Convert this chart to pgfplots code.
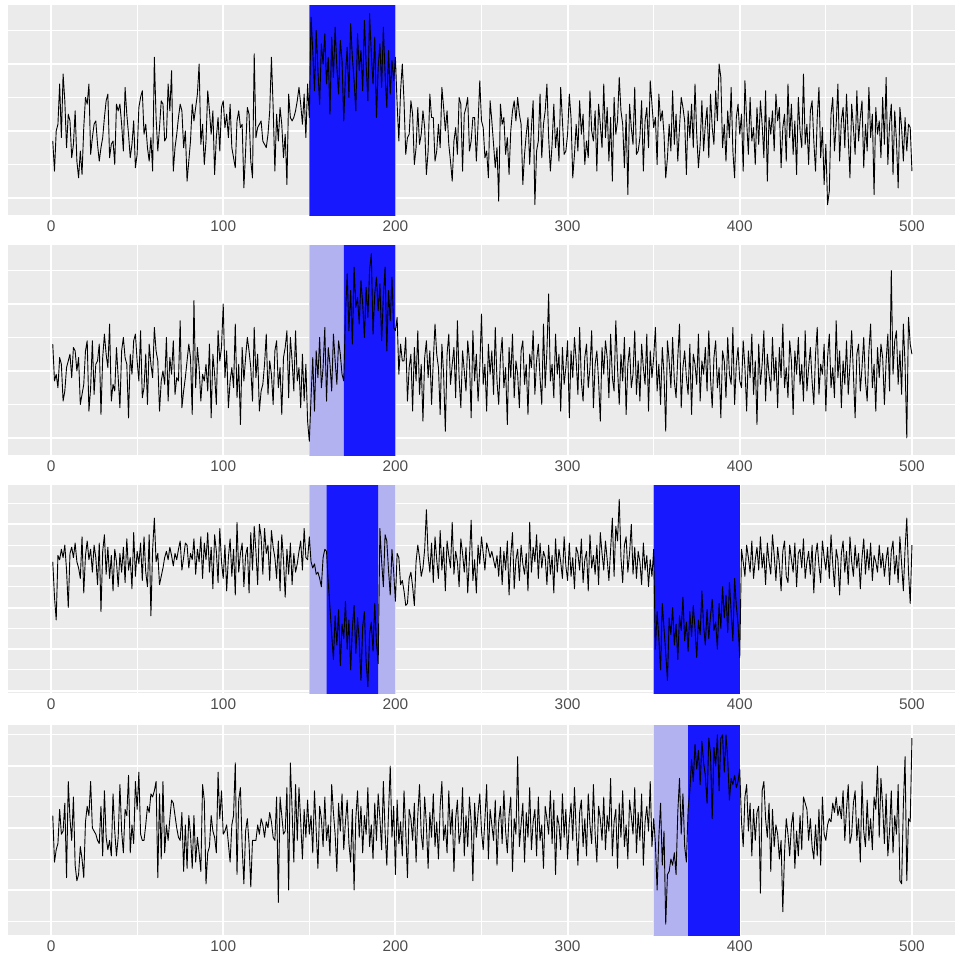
\documentclass[border=0pt]{standalone}
\usepackage{fontspec}
\setmainfont{Liberation Sans}
\usepackage{pgfplots}
\usepackage{pgfplotstable}
\pgfplotsset{compat=1.18}
\definecolor{panelbg}{RGB}{235,235,235}
\definecolor{shadedark}{RGB}{24,24,255}
\definecolor{shadelight}{RGB}{178,178,240}
\definecolor{ticktext}{RGB}{77,77,77}

% one series per panel, x = 1..500 (row index + 1)
\pgfplotstableread{
y
-3
-12
0
2
14
-2
17
9
-5
5
3
-8
-4
6
-9
-14
-6
-13
1
10
8
14
-7
-2
2
3
-4
-9
-5
-2
4
9
11
-8
-4
-3
-10
8
6
8
2
-6
13
5
-1
-8
-4
3
-11
-7
7
10
12
-1
2
-5
-9
-2
-12
22
4
-6
1
9
8
-3
-2
14
6
18
-12
-5
-1
4
8
6
-5
0
-15
-9
-3
8
3
7
11
20
-4
2
-10
-3
12
6
-1
6
-13
-2
4
-6
7
9
1
5
-2
8
-5
-8
-11
3
6
1
2
-17
-6
7
5
-9
-14
23
-2
1
2
3
-3
-4
-5
-1
6
22
7
-12
5
-3
7
2
-8
-1
-16
11
4
3
4
6
9
13
8
2
11
-2
14
4
34
24
12
30
18
8
26
20
29
14
22
5
28
16
31
19
11
27
21
3
17
25
10
32
22
15
6
29
18
24
12
33
20
9
35
23
14
28
4
19
26
13
31
17
7
24
11
21
15
22
8
-3
12
20
9
-7
-2
-1
9
5
-10
-5
7
-4
-1
6
1
-13
-6
11
4
4
-9
-6
2
-5
13
7
0
6
-4
-9
-15
-3
1
-7
10
8
-12
5
7
10
-6
-3
4
4
-9
2
15
3
1
-8
-6
-14
9
3
-4
-11
-5
-21
8
2
4
-7
-2
-13
0
6
9
3
10
5
2
-16
-7
-1
4
-10
1
9
-22
-6
-3
11
-8
2
6
14
-2
-12
-4
8
-5
1
-9
13
3
-7
-6
-1
11
4
-14
-7
2
-6
9
-1
5
-10
-3
-8
12
0
-3
6
-12
8
2
-5
14
-2
7
-9
4
-15
10
-1
3
16
6
2
-11
5
-19
8
1
-4
13
-7
-6
-2
9
-12
3
7
-5
15
8
1
4
-10
11
3
6
-1
-14
-8
2
-6
12
-4
5
-9
1
10
7
3
-13
6
-2
8
-5
14
-1
-11
-4
9
-6
2
7
-8
11
1
-4
12
3
20
16
-5
2
-9
6
-2
13
-6
-14
4
8
-1
5
-12
15
3
-7
10
-3
1
-10
7
-4
9
2
-8
12
-15
4
-1
6
-6
11
3
7
-11
1
5
-9
14
-2
8
-7
3
-13
10
0
-5
17
-4
2
-10
6
9
-3
-12
4
13
-8
1
-16
-4
-22
-18
5
10
-6
2
14
-9
3
7
-5
11
-2
-14
8
1
-7
12
-3
4
9
-11
2
-6
13
-2
5
-19
7
-1
3
-8
10
-4
16
-10
2
8
-13
6
-3
-17
7
1
-9
4
-6
2
1
-12
}\dataA

\pgfplotstableread{
y
8
-3
-1
-5
4
2
-9
-6
1
3
5
-2
7
6
0
4
-10
-7
-4
6
9
-12
-5
9
-7
2
3
8
-13
4
11
5
1
14
-9
-4
-6
7
-2
-11
6
10
4
2
-14
5
-1
9
11
3
-3
12
-8
-5
5
-10
8
2
-2
13
6
3
-12
-3
0
-4
10
-9
4
-1
9
-7
-2
-3
15
-11
-6
-2
3
8
4
-13
21
-5
7
1
-9
-1
-3
2
-6
8
-14
5
-1
-10
12
3
7
20
-2
6
-11
-3
1
-5
14
-8
2
-16
7
-3
4
10
6
1
-9
13
-2
5
-12
-6
-4
2
11
-7
3
-1
-10
6
9
-5
1
-13
4
7
12
-8
10
3
-6
12
-3
1
-11
5
-9
2
-15
-21
-8
4
-12
6
-2
10
-5
1
13
-9
7
2
-6
11
3
-4
9
5
-1
-3
17
29
12
24
8
31
19
22
14
27
20
10
25
16
30
35
11
23
28
18
26
9
22
31
6
24
15
28
13
12
16
-1
8
3
3
10
-9
1
5
-12
7
-3
12
-7
2
-15
4
9
-2
6
-10
3
14
5
1
-13
8
-1
-18
5
11
-4
2
7
-8
15
-2
-11
6
0
-6
9
3
-14
12
-3
5
-9
1
17
-4
2
-12
8
-1
6
-7
13
-3
-10
4
10
-5
1
-16
7
-2
11
-8
3
-1
-11
6
9
-4
2
-13
5
1
12
-7
3
8
-2
-10
14
-5
6
23
-3
2
-8
11
-1
5
-12
7
-4
1
9
-14
6
-2
10
3
-7
13
-3
-9
4
8
-5
1
12
-11
2
6
-3
-15
7
-1
9
4
-8
11
-2
-6
15
1
-10
5
-3
10
-13
2
7
-5
-1
12
-7
3
-9
8
1
-4
11
-12
6
-2
4
13
-6
2
-10
7
-1
-18
9
3
-5
10
-3
-8
4
14
-11
1
6
-2
-7
8
-13
5
2
-4
11
-9
3
-1
7
-6
12
-2
-11
4
9
-5
1
-14
6
3
-8
10
-1
-4
13
-10
2
7
-3
-5
9
1
-12
6
-2
11
-7
3
-16
8
-4
2
12
-9
5
-1
-6
10
-3
4
-11
7
-2
14
-5
1
-8
9
3
-13
6
-1
10
-4
2
-9
12
-6
1
7
-3
-10
5
13
-7
2
-1
8
-12
4
11
-5
1
-8
15
-2
6
-11
3
-4
9
-7
2
12
-1
-14
5
8
-6
1
10
-3
-9
6
14
-5
2
-12
7
-2
8
4
-10
3
11
-6
30
-1
9
12
-4
6
-7
14
2
-20
16
8
5
}\dataB

\pgfplotstableread{
y
2
-15
-26
5
3
8
4
10
-2
-20
6
9
4
11
2
-1
-6
14
-13
5
12
3
8
-3
10
4
-9
11
-22
7
15
-4
9
-6
5
-12
8
2
-10
6
-3
9
-8
13
-2
4
-11
16
-5
7
1
11
-7
14
-3
-10
15
-24
8
23
2
6
-9
-5
-1
4
7
3
9
5
0
6
3
8
12
-2
4
11
10
-1
6
3
13
-4
8
2
14
-6
11
3
16
-3
9
-11
15
7
-8
18
2
-6
10
-12
4
13
-5
8
-14
21
-3
6
11
-10
5
9
-13
16
-2
19
7
-9
20
14
-4
18
6
10
-7
17
9
4
-6
12
-12
15
3
-15
8
-4
11
-9
6
-3
1
7
12
-2
18
4
3
14
2
-1
1
-4
-3
-6
-10
4
8
7
-8
-20
-33
-45
-24
-38
-21
-48
-28
-35
-17
-40
-26
-50
-30
-19
-42
-25
-36
-55
-29
-22
-46
-58
-33
-27
-41
-18
-37
-47
18
2
-10
15
12
-2
-14
8
-3
-17
6
4
-9
-7
-12
-19
-18
-6
-3
-10
-19
2
10
4
-5
-1
8
27
5
-3
11
-8
14
3
-6
17
-2
9
-12
12
5
-1
21
-4
7
2
-10
13
6
-3
9
-13
4
22
-7
3
-13
10
1
14
6
-2
11
8
4
7
3
-1
5
-5
9
-9
7
-2
12
-14
5
16
-11
3
8
-7
10
1
-4
6
-12
21
-3
9
2
15
-6
11
-1
7
4
-9
10
-4
5
-13
13
-3
8
2
-6
14
0
-7
11
-5
4
-11
9
6
-2
13
-8
3
7
-12
15
-1
5
-4
10
-9
16
6
-2
12
3
-7
8
23
-5
19
12
32
4
-8
10
14
-3
6
20
-4
9
-6
7
2
-9
11
-2
5
-10
3
-5
8
-40
-22
-35
-50
-18
-30
-42
-55
-25
-33
-20
-38
-28
-45
-24
-31
-15
-36
-27
-41
-22
-34
-19
-30
-44
-26
-33
-12
-29
-38
-21
-35
-24
-16
-31
-27
-40
-18
-30
-10
-25
-14
-32
-8
-22
-36
-6
-19
-28
-44
8
2
-5
10
4
-3
12
-6
3
9
-2
14
-1
6
-9
11
2
-4
15
5
-7
9
1
-12
7
12
-5
-8
10
3
-3
11
-10
6
8
-1
13
-6
2
7
-4
10
-13
5
11
0
-8
12
4
-2
9
-6
15
1
-10
8
3
-14
6
12
-3
7
-9
14
2
-5
10
-1
6
-11
4
13
-4
8
-2
11
-7
5
2
-3
10
-1
6
-5
3
9
-9
7
12
-4
5
-8
14
1
-12
8
23
-3
-18
10
}\dataC

\pgfplotstableread{
y
4
-11
-7
-5
6
-2
-1
8
-16
15
3
-4
10
-12
-17
-15
-6
-10
-16
2
7
4
15
0
-1
-2
-4
-5
7
-9
12
-3
-7
-4
-9
11
-1
-9
-3
14
-1
-8
6
4
17
-8
1
-5
15
6
18
-2
-4
-4
1
7
5
11
10
12
15
-16
11
-10
15
-8
1
-4
3
9
8
4
0
-3
-4
5
-14
1
-13
4
-2
-13
4
-11
-3
-8
-14
14
9
-18
-8
-6
4
-1
-3
-8
18
3
12
-2
-1
1
-5
-11
1
4
21
-15
9
13
-6
-18
-1
3
-5
-19
-4
-4
-4
1
-2
3
1
-3
2
0
5
2
-3
-4
10
-24
10
4
-2
-1
13
-20
21
6
-11
14
-4
13
2
-10
6
-3
9
-2
4
-8
12
-1
-13
7
3
-6
10
-4
1
-9
14
5
-2
-14
8
-1
11
-7
2
9
-5
-11
6
-20
3
12
-3
7
-8
4
-2
13
-6
1
-10
8
-4
11
3
-7
15
-1
-12
5
20
-3
7
-15
9
-5
2
-9
12
-1
-16
6
3
-4
8
-11
4
14
-2
-7
10
1
-13
5
-3
11
-6
2
-10
7
15
-4
1
-8
12
-2
6
-14
3
9
-5
-1
13
-9
4
-6
10
2
-17
8
-3
5
11
-1
-7
3
14
-10
6
1
-4
9
-12
2
7
-5
12
-1
-8
4
10
-14
3
-2
23
-6
1
8
-11
5
-3
13
-7
2
6
-9
10
-4
1
-13
7
3
-2
12
-5
9
-15
4
1
-7
11
-3
6
-10
2
8
-4
13
-1
-12
5
9
-6
3
-9
11
1
-5
14
-2
-11
7
3
-4
10
-7
4
-1
16
-9
2
6
-13
8
-3
12
-6
1
-10
9
4
-2
13
-8
5
-4
11
-12
2
7
-1
15
-6
3
-5
-20
-3
8
-12
-1
-31
-15
-14
-10
-12
-8
-15
5
16
-2
11
-6
-11
6
12
22
15
27
19
25
14
28
21
17
8
29
24
3
26
20
30
12
29
30
18
30
22
9
16
14
17
13
15
19
2
-6
10
14
-1
8
-9
6
-4
5
7
-21
12
15
3
-3
8
-14
6
-6
1
-2
-10
-4
-27
-8
3
-2
-9
1
5
-13
-1
-9
4
-7
10
8
6
-4
3
-6
-10
1
-9
6
-12
10
-2
-4
1
3
2
8
5
10
4
7
3
12
-4
6
14
-5
-2
8
12
-4
3
-11
15
-1
-6
9
-4
3
-7
10
6
20
-3
16
7
-5
11
-9
-1
12
-8
4
-2
14
-17
-18
7
23
-17
3
2
29
}\dataD

\pgfplotsset{
  panel/.style={
    scale only axis, width=473.5pt, height=105pt,
    anchor=north west,
    xmin=-25, xmax=525,
    axis background/.style={fill=panelbg},
    axis line style={draw=none},
    tick style={draw=none},
    xtick={0,100,...,500},
    minor xtick={50,150,...,450},
    ymajorticks=false, yminorticks=false,
    grid=both,
    major grid style={white, line width=1pt},
    minor grid style={white, line width=0.5pt},
    xticklabel style={font=\fontsize{7.7}{9}\selectfont, text=ticktext, inner sep=0pt},
    xticklabel shift=2.9pt,
    /pgf/number format/assume math mode=true,
    clip=true,
  },
  series/.style={black, line width=0.45pt, line join=round, mark=none},
  dark/.style={draw=none, fill=shadedark, forget plot},
  light/.style={draw=none, fill=shadelight, forget plot},
}

\begin{document}
\begin{tikzpicture}
\path[use as bounding box] (0,0) rectangle (480pt,-480pt);

% panel 1
\begin{axis}[panel, at={(4pt,-2.5pt)},
    ymin=-25.1, ymax=37.6, ytick={-20,0,20}, minor ytick={-10,10,30}]
\addplot[dark] coordinates {(150,-100) (150,100) (200,100) (200,-100) (150,-100)};
\addplot[series] table[x expr=\coordindex+1, y=y] {\dataA};
\end{axis}

% panel 2
\begin{axis}[panel, at={(4pt,-122.5pt)},
    ymin=-25.1, ymax=37.6, ytick={-20,0,20}, minor ytick={-10,10,30}]
\addplot[light] coordinates {(150,-100) (150,100) (170,100) (170,-100) (150,-100)};
\addplot[dark] coordinates {(170,-100) (170,100) (200,100) (200,-100) (170,-100)};
\addplot[series] table[x expr=\coordindex+1, y=y] {\dataB};
\end{axis}

% panel 3
\begin{axis}[panel, at={(4pt,-242.5pt)}, height=104pt,
    ymin=-61.1, ymax=38.9, ytick={-60,-40,-20,0,20}, minor ytick={-50,-30,-10,10,30}]
\addplot[light] coordinates {(150,-100) (150,100) (200,100) (200,-100) (150,-100)};
\addplot[dark] coordinates {(160,-100) (160,100) (190,100) (190,-100) (160,-100)};
\addplot[dark] coordinates {(350,-100) (350,100) (400,100) (400,-100) (350,-100)};
\addplot[series] table[x expr=\coordindex+1, y=y] {\dataC};
\end{axis}

% panel 4
\begin{axis}[panel, at={(4pt,-362.5pt)},
    ymin=-34.5, ymax=33.2, ytick={-20,0,20}, minor ytick={-30,-10,10,30}]
\addplot[light] coordinates {(350,-100) (350,100) (370,100) (370,-100) (350,-100)};
\addplot[dark] coordinates {(370,-100) (370,100) (400,100) (400,-100) (370,-100)};
\addplot[series] table[x expr=\coordindex+1, y=y] {\dataD};
\end{axis}
\end{tikzpicture}
\end{document}
